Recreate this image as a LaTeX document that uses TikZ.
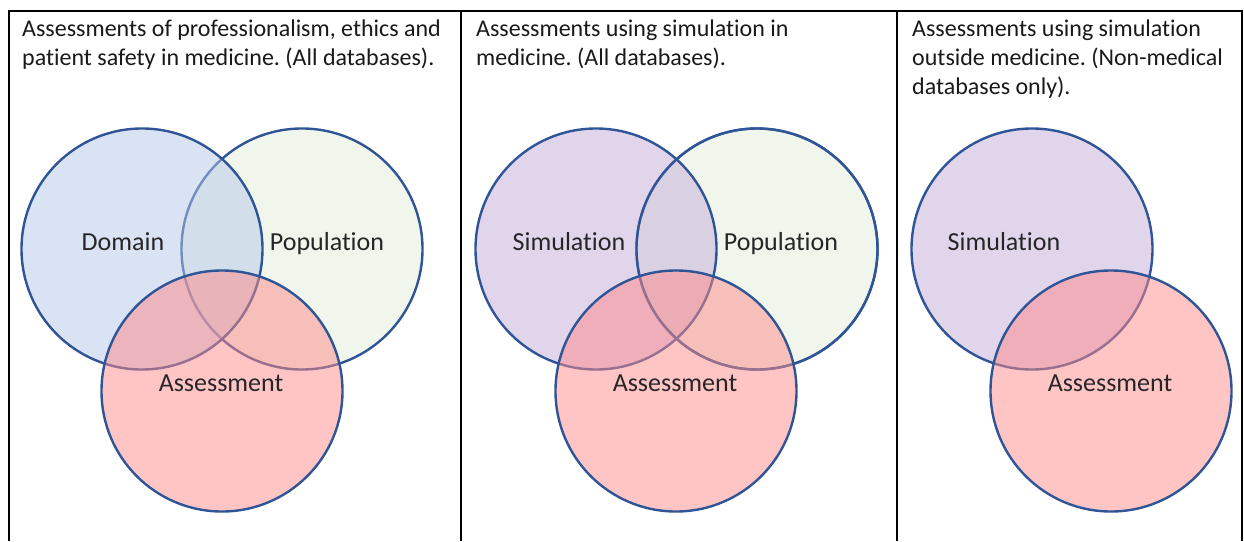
\documentclass[tikz,border=0pt]{standalone}
\usepackage{fontspec}
\setmainfont{Carlito}[Ligatures=NoCommon]
\usepackage{tikz}
\frenchspacing

\definecolor{ringblue}{HTML}{2F5597}
\definecolor{domfill}{HTML}{B5C7E7}
\definecolor{popfill}{HTML}{E1EDD9}
\definecolor{assfill}{HTML}{FF8989}
\definecolor{simfill}{HTML}{C3ABD9}

\tikzset{
  venn/.style={draw=ringblue, line width=2.4pt, fill opacity=0.5},
  ring/.style={draw=ringblue, line width=2.4pt},
  heading/.style={anchor=north west, inner sep=0pt, align=left,
                  font=\fontsize{24}{28.8}\selectfont, text=black!90},
  setlabel/.style={anchor=base, inner sep=0pt, font=\fontsize{26}{30}\selectfont, text=black!85},
  frame/.style={draw=black, line width=2pt}
}

\begin{document}
\begin{tikzpicture}[x=1pt,y=-1pt]
\useasboundingbox (0,0) rectangle (1244,541);

% table rules
\draw[frame] (8,11) -- (1243,11);
\draw[frame] (9,10) -- (9,541);
\draw[frame] (461,10) -- (461,541);
\draw[frame] (897,10) -- (897,541);
\draw[frame] (1242,10) -- (1242,541);

% headings
\node[heading] (headA) at (22,20) {Assessments of professionalism, ethics and\\patient safety in medicine. (All databases).};
\node[heading] (headB) at (476,20) {Assessments using simulation in\\medicine. (All databases).};
\node[heading] (headC) at (912,20) {Assessments using simulation\\outside medicine. (Non-medical\\databases only).};

% first panel
\draw[venn, fill=popfill] (302,249) circle (120.5);
\draw[venn, fill=domfill] (142,249) circle (120.5);
\draw[venn, fill=assfill] (222,391) circle (120.5);
\node[setlabel] (domA) at (123,250) {Domain};
\node[setlabel] (popA) at (327,250) {Population};
\node[setlabel] (assA) at (221,391) {Assessment};

% second panel
\draw[venn, fill=popfill] (757,249) circle (120.5);
\draw[venn, fill=simfill] (596,249) circle (120.5);
\draw[ring] (757,249) circle (120.5);
\draw[venn, fill=assfill] (676,391) circle (120.5);
\node[setlabel] (simB) at (569,250) {Simulation};
\node[setlabel] (popB) at (781,250) {Population};
\node[setlabel] (assB) at (675,391) {Assessment};

% third panel
\draw[venn, fill=simfill] (1032,249) circle (120.5);
\draw[venn, fill=assfill] (1111,391) circle (120.5);
\node[setlabel] (simC) at (1004,250) {Simulation};
\node[setlabel] (assC) at (1110,391) {Assessment};

\end{tikzpicture}
\end{document}
